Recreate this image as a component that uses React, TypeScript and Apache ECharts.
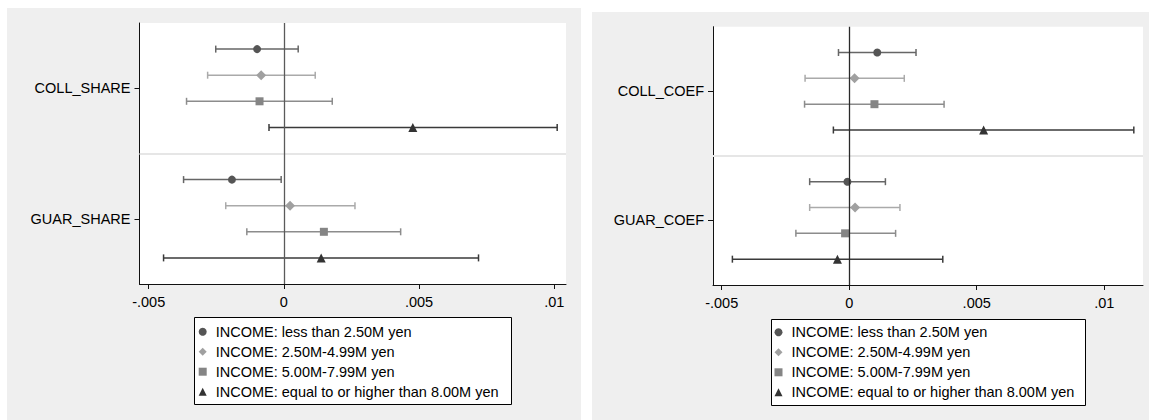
import React, { useEffect, useRef } from "react";
import * as echarts from "echarts";

// ---- data ----
const groups = [
  "INCOME: less than 2.50M yen",
  "INCOME: 2.50M-4.99M yen",
  "INCOME: 5.00M-7.99M yen",
  "INCOME: equal to or higher than 8.00M yen",
];
const leftCategories = ["COLL_SHARE", "GUAR_SHARE"];
const rightCategories = ["COLL_COEF", "GUAR_COEF"];

// each group: [category 1, category 2]
const leftEst = [
  [-0.00099, -0.00192],
  [-0.00084, 0.00023],
  [-0.0009, 0.00148],
  [0.00477, 0.00138],
];
const leftLo = [
  [-0.00252, -0.00371],
  [-0.00282, -0.00215],
  [-0.0036, -0.00137],
  [-0.00055, -0.00445],
];
const leftHi = [
  [0.00053, -0.0001],
  [0.00116, 0.00263],
  [0.00179, 0.00432],
  [0.01011, 0.0072],
];

const rightEst = [
  [0.0011, -0.00007],
  [0.00021, 0.00023],
  [0.00099, -0.00016],
  [0.00527, -0.00046],
];
const rightLo = [
  [-0.00042, -0.00155],
  [-0.00173, -0.00155],
  [-0.00175, -0.00209],
  [-0.00062, -0.00458],
];
const rightHi = [
  [0.00262, 0.00142],
  [0.00216, 0.00199],
  [0.00372, 0.00182],
  [0.01116, 0.00367],
];

const xTickValues = [-0.005, 0, 0.005, 0.01];
const xTickLabels = ["-.005", "0", ".005", ".01"];

// ---- styles ----
const FONT = "'Liberation Sans', Arial, Helvetica, sans-serif";
const FS = 14.5;
const markerSymbols = ["circle", "diamond", "rect", "triangle"];
const markerSizes = [8, 10, 8, 9];
const markerColors = ["#555555", "#a0a0a0", "#858585", "#333333"];
const lineColors = ["#666666", "#aaaaaa", "#8c8c8c", "#3a3a3a"];

// row position of each group within a category block (0..10 scale)
const rowPos = (cat: number, g: number) => cat * 5 + g + 1;

function buildPanel(
  idx: number,
  est: number[][],
  lo: number[][],
  hi: number[][],
  zeroColor: string
) {
  const series: any[] = [];
  series.push({
    type: "custom",
    name: "ref" + idx,
    xAxisIndex: idx,
    yAxisIndex: idx,
    z: 1,
    silent: true,
    data: [],
    renderItem: () => null,
    markLine: {
      silent: true,
      symbol: "none",
      animation: false,
      label: { show: false },
      data: [
        { yAxis: 5, lineStyle: { color: "#e6e6e6", width: 2, type: "solid" } },
        { xAxis: 0, lineStyle: { color: zeroColor, width: 1.3, type: "solid" } },
      ],
    },
  });
  groups.forEach((g, gi) => {
    const color = lineColors[gi];
    series.push({
      type: "custom",
      name: "ci" + idx + "-" + gi,
      xAxisIndex: idx,
      yAxisIndex: idx,
      z: 2,
      silent: true,
      encode: { x: [0, 1], y: 2 },
      data: lo[gi].map((l, ci) => [l, hi[gi][ci], rowPos(ci, gi)]),
      renderItem: (params: any, api: any) => {
        const a = api.coord([api.value(0), api.value(2)]);
        const b = api.coord([api.value(1), api.value(2)]);
        const h = 3.5;
        const st = { stroke: color, lineWidth: 1.5 };
        return {
          type: "group",
          children: [
            { type: "line", shape: { x1: a[0], y1: a[1], x2: b[0], y2: b[1] }, style: st },
            { type: "line", shape: { x1: a[0], y1: a[1] - h, x2: a[0], y2: a[1] + h }, style: st },
            { type: "line", shape: { x1: b[0], y1: b[1] - h, x2: b[0], y2: b[1] + h }, style: st },
          ],
        };
      },
    });
  });
  groups.forEach((g, gi) => {
    series.push({
      type: "scatter",
      name: g,
      xAxisIndex: idx,
      yAxisIndex: idx,
      z: 3,
      symbol: markerSymbols[gi],
      symbolSize: markerSizes[gi],
      itemStyle: { color: markerColors[gi], opacity: 1 },
      data: est[gi].map((v, ci) => [v, rowPos(ci, gi)]),
    });
  });
  return series;
}

function xAxisDef(idx: number, max: number) {
  return {
    type: "value",
    gridIndex: idx,
    min: -0.00534,
    max,
    axisLine: { show: true, onZero: false, lineStyle: { color: "#111", width: 1 } },
    axisTick: { show: true, length: 5, customValues: xTickValues, lineStyle: { color: "#111" } },
    axisLabel: {
      show: true,
      customValues: xTickValues,
      margin: 10,
      fontSize: FS,
      fontFamily: FONT,
      color: "#000",
      formatter: (v: number) => {
        const i = xTickValues.findIndex((t) => Math.abs(t - v) < 1e-9);
        return i >= 0 ? xTickLabels[i] : "";
      },
    },
    splitLine: { show: false },
  };
}

function yAxisDef(idx: number, cats: string[]) {
  const vals = cats.map((c, i) => i * 5 + 2.5);
  return {
    type: "value",
    gridIndex: idx,
    min: 0,
    max: 10,
    inverse: true,
    axisLine: { show: true, onZero: false, lineStyle: { color: "#111", width: 1 } },
    axisTick: { show: true, length: 5, customValues: vals, lineStyle: { color: "#111" } },
    axisLabel: {
      show: true,
      customValues: vals,
      margin: 9,
      fontSize: FS,
      fontFamily: FONT,
      color: "#000",
      formatter: (v: number) => {
        const i = Math.round((v - 2.5) / 5);
        return cats[i] ?? "";
      },
    },
    splitLine: { show: false },
  };
}

function legendDef(left: number, top: number) {
  return {
    show: true,
    orient: "vertical",
    left,
    top,
    padding: 0,
    itemWidth: 8,
    itemHeight: 8,
    itemGap: 4,
    selectedMode: false,
    data: groups,
    textStyle: {
      fontSize: FS,
      fontFamily: FONT,
      color: "#000",
      lineHeight: 16,
      padding: [0, 0, 0, 4],
    },
  };
}

export default function App() {
  const ref = useRef<HTMLDivElement>(null);
  useEffect(() => {
    document.body.style.margin = "0";
    document.body.style.padding = "0";
    if (!ref.current) return;
    const chart = echarts.init(ref.current, undefined, { renderer: "svg" });
    const option: any = {
      animation: false,
      backgroundColor: "#ffffff",
      textStyle: { fontFamily: FONT },
      graphic: [
        { type: "rect", z: -10, shape: { x: 7, y: 8, width: 574, height: 412 }, style: { fill: "#efefef" } },
        { type: "rect", z: -10, shape: { x: 592, y: 12, width: 557, height: 408 }, style: { fill: "#efefef" } },
        {
          type: "rect",
          z: 1,
          shape: { x: 194.5, y: 317.5, width: 317, height: 87 },
          style: { fill: "#ffffff", stroke: "#000", lineWidth: 1 },
        },
        {
          type: "rect",
          z: 1,
          shape: { x: 771.5, y: 319.5, width: 314, height: 86 },
          style: { fill: "#ffffff", stroke: "#000", lineWidth: 1 },
        },
      ],
      grid: [
        { left: 139.5, top: 23, width: 426.5, height: 261, show: true, backgroundColor: "#ffffff", borderWidth: 0 },
        { left: 713, top: 26.7, width: 430, height: 258.3, show: true, backgroundColor: "#ffffff", borderWidth: 0 },
      ],
      xAxis: [xAxisDef(0, 0.010436), xAxisDef(1, 0.01152)],
      yAxis: [yAxisDef(0, leftCategories), yAxisDef(1, rightCategories)],
      legend: [legendDef(198.7, 323.7), legendDef(774.5, 324.3)],
      tooltip: { show: false },
      series: [
        ...buildPanel(0, leftEst, leftLo, leftHi, "#5a5a5a"),
        ...buildPanel(1, rightEst, rightLo, rightHi, "#2a2a2a"),
      ],
    };
    chart.setOption(option);
    return () => chart.dispose();
  }, []);
  return (
    <div
      ref={ref}
      style={{ position: "fixed", left: 0, top: 0, width: 1149, height: 420 }}
    />
  );
}
